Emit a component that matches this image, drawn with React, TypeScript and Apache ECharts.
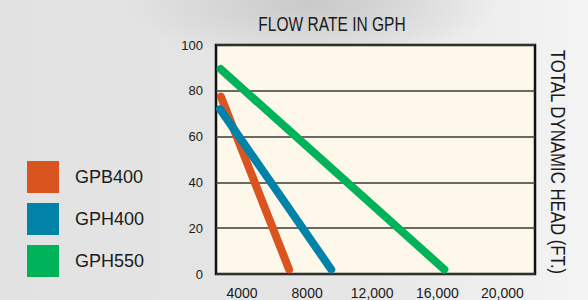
import React, { useEffect, useRef } from "react";
import * as echarts from "echarts";

const seriesNames = ["GPB400", "GPH400", "GPH550"];
const seriesColors = ["#d9541e", "#0082a9", "#00b25a"];
// [flow (GPH), head (ft)]
const gpb400: number[][] = [
  [2700, 77.5],
  [6890, 2],
];
const gph400: number[][] = [
  [2650, 72],
  [9480, 2],
];
const gph550: number[][] = [
  [2680, 89.5],
  [16430, 2],
];
const xTicks = [4000, 8000, 12000, 16000, 20000];
const yTicks = [0, 20, 40, 60, 80, 100];

const FONT = "'Liberation Sans', Arial, sans-serif";

export default function App() {
  const ref = useRef<HTMLDivElement>(null);
  useEffect(() => {
    if (!ref.current) return;
    const chart = echarts.init(ref.current, undefined, { renderer: "svg" });
    const data = [gpb400, gph400, gph550];
    chart.setOption({
      animation: false,
      backgroundColor: "transparent",
      grid: {
        left: 216,
        top: 45,
        right: 53,
        bottom: 21,
        show: true,
        backgroundColor: "#fdf8e9",
        borderColor: "#111",
        borderWidth: 2.5,
      },
      legend: {
        orient: "vertical",
        left: 27,
        top: 161,
        padding: 0,
        icon: "rect",
        itemWidth: 32,
        itemHeight: 32,
        itemGap: 10,
        data: seriesNames,
        textStyle: {
          fontFamily: FONT,
          fontSize: 18,
          color: "#1a1a1a",
          padding: [0, 0, 0, 11],
        },
      },
      xAxis: {
        type: "value",
        min: 2400,
        max: 22000,
        axisLine: { show: false },
        axisTick: { show: false },
        splitLine: { show: false },
        axisLabel: {
          customValues: xTicks,
          margin: 12,
          fontFamily: FONT,
          fontSize: 14,
          color: "#1a1a1a",
          formatter: (v: number) =>
            v >= 10000 ? v.toLocaleString("en-US") : String(v),
        },
      },
      yAxis: {
        type: "value",
        min: 0,
        max: 100,
        interval: 20,
        axisLine: { show: false },
        axisTick: { show: false },
        splitLine: { show: true, lineStyle: { color: "#3a3a3a", width: 1.5 } },
        axisLabel: {
          customValues: yTicks,
          margin: 13,
          fontFamily: FONT,
          fontSize: 13,
          color: "#1a1a1a",
          padding: [6, 0, 0, 0],
        },
      },
      graphic: [
        {
          type: "text",
          x: 332,
          y: 24,
          scaleX: 0.74,
          style: {
            text: "FLOW RATE IN GPH",
            fontFamily: FONT,
            fontSize: 21,
            fill: "#1a1a1a",
            align: "center",
            verticalAlign: "middle",
          },
        },
        {
          type: "text",
          x: 558,
          y: 162,
          rotation: -Math.PI / 2,
          scaleX: 0.8,
          style: {
            text: "TOTAL DYNAMIC HEAD (FT.)",
            fontFamily: FONT,
            fontSize: 21,
            fill: "#1a1a1a",
            align: "center",
            verticalAlign: "middle",
          },
        },
      ],
      series: seriesNames.map((name, i) => ({
        name,
        type: "line",
        data: data[i],
        symbol: "none",
        color: seriesColors[i],
        itemStyle: { color: seriesColors[i] },
        lineStyle: { color: seriesColors[i], width: 8, cap: "round" },
      })),
    });
    return () => chart.dispose();
  }, []);
  return (
    <div
      style={{
        position: "fixed",
        left: 0,
        top: 0,
        width: 588,
        height: 300,
        background:
          "radial-gradient(ellipse 190px 55px at 310px 5px, #c9c9c9 0%, rgba(201,201,201,0) 100%), linear-gradient(to right, #e2e2e2 0%, #e6e6e6 60%, #f4f4f4 100%)",
      }}
    >
      <div ref={ref} style={{ width: 588, height: 300 }} />
    </div>
  );
}
